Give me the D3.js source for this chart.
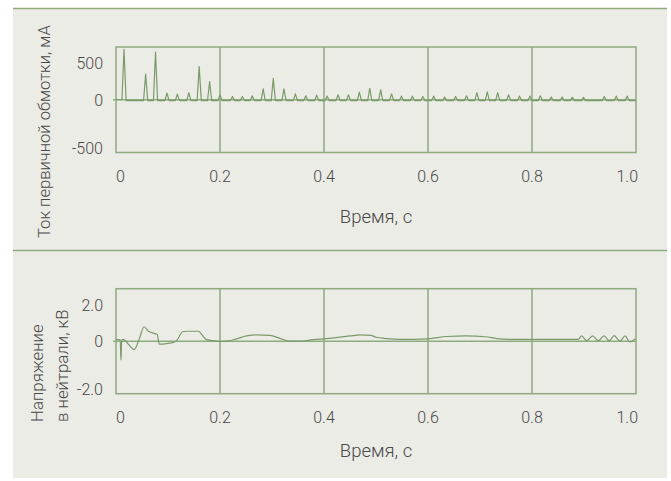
<!DOCTYPE html>
<html>
<head>
<meta charset="utf-8">
<script src="https://cdn.jsdelivr.net/npm/d3@7/dist/d3.min.js"></script>
<style>
  html, body { margin: 0; padding: 0; background: #ffffff; }
  svg { display: block; }
  text { font-family: Roboto, "Liberation Sans", sans-serif; font-weight: 300; fill: #484848; }
</style>
</head>
<body>
<svg id="chart" width="671" height="481"></svg>
<script>
// ---- Data ----------------------------------------------------------------
// Time axis (s), shared by both panels
const timeTicks = [0, 0.2, 0.4, 0.6, 0.8, 1.0];
const timeTickLabels = ["0", "0.2", "0.4", "0.6", "0.8", "1.0"];

// Primary winding current: inrush pulses (time, s / peak, mA)
const pulseTimes = [0.0154, 0.057, 0.076, 0.098, 0.118, 0.140, 0.160, 0.180, 0.200,
  0.224, 0.243, 0.262, 0.283, 0.3025, 0.323, 0.345, 0.365, 0.386, 0.406, 0.427,
  0.447, 0.468, 0.488, 0.509, 0.530, 0.549, 0.570, 0.590, 0.611, 0.632, 0.653,
  0.674, 0.694, 0.714, 0.734, 0.755, 0.776, 0.796, 0.816, 0.837, 0.858, 0.8775,
  0.899, 0.939, 0.962, 0.983];
const pulsePeaks = [477, 243, 451, 63, 53, 68, 315, 171, 47,
  31, 31, 37, 103, 203, 103, 56, 37, 44, 34, 47,
  47, 72, 109, 93, 56, 34, 34, 31, 34, 25, 31,
  37, 68, 75, 68, 47, 34, 34, 37, 25, 25, 22,
  22, 31, 34, 34];
const currentBaseline = -8;          // mA between pulses
const pulseHalfWidth = 0.004;        // s
const currentTicks = [500, 0, -500];
const currentTickLabels = ["500", "0", "-500"];

// Neutral voltage (time, s / kV)
const voltageTimes = [0, 0.008, 0.0096, 0.011, 0.015, 0.024, 0.035, 0.045, 0.054, 0.062,
  0.075, 0.0795, 0.083, 0.0974, 0.1115, 0.117, 0.128, 0.136, 0.159, 0.165, 0.174,
  0.187, 0.199, 0.216, 0.232, 0.251, 0.271, 0.296, 0.315, 0.335, 0.354, 0.379,
  0.405, 0.45, 0.47, 0.49, 0.50, 0.52, 0.546, 0.60, 0.636, 0.674, 0.71, 0.732,
  0.758, 0.80, 0.889, 0.8955, 0.905, 0.9167, 0.9275, 0.9385, 0.9487, 0.958,
  0.969, 0.979, 0.988, 0.998];
const voltageValues = [0.06, 0.06, -0.72, 0.06, 0.06, -0.12, -0.32, 0.10, 0.55, 0.39,
  0.29, 0.25, -0.11, -0.09, -0.04, 0.03, 0.36, 0.38, 0.38, 0.25, 0.06,
  0.025, -0.01, 0.01, 0.09, 0.20, 0.24, 0.22, 0.11, 0.0, 0.0, 0.06,
  0.10, 0.20, 0.24, 0.22, 0.15, 0.10, 0.07, 0.09, 0.18, 0.20, 0.17, 0.10,
  0.07, 0.07, 0.07, 0.20, 0.02, 0.20, 0.02, 0.20, 0.02, 0.21,
  0.0, 0.20, -0.03, 0.09];
const voltageTicks = [2.0, 0, -2.0];
const voltageTickLabels = ["2.0", "0", "-2.0"];

// ---- Drawing -------------------------------------------------------------
const svg = d3.select("#chart");
const lineColor = "#8dab7e";
const traceColor = "#7b9a6b";

// panel background and separators
svg.append("rect").attr("x", 13).attr("y", 8).attr("width", 654).attr("height", 470)
  .attr("fill", "#ecece6");
[8.5, 250.5].forEach(y => svg.append("line")
  .attr("x1", 13).attr("x2", 667).attr("y1", y).attr("y2", y)
  .attr("stroke", lineColor).attr("stroke-width", 1.6));

function drawPanel(opt) {
  const x = d3.scaleLinear().domain([0, 1]).range([116, 636]);
  const y = d3.scaleLinear().domain(opt.domain).range([opt.bottom, opt.top]);
  const g = svg.append("g");

  // frame
  g.append("rect").attr("x", x(0)).attr("y", opt.top)
    .attr("width", x(1) - x(0)).attr("height", opt.bottom - opt.top)
    .attr("fill", "none").attr("stroke", lineColor).attr("stroke-width", 1.5);

  // vertical grid
  g.selectAll("line.vgrid").data(timeTicks.slice(1, -1)).join("line")
    .attr("class", "vgrid")
    .attr("x1", d => x(d)).attr("x2", d => x(d))
    .attr("y1", opt.top).attr("y2", opt.bottom)
    .attr("stroke", lineColor).attr("stroke-width", 1.5);

  // zero line
  g.append("line").attr("x1", x(0) - 3).attr("x2", x(1))
    .attr("y1", y(0)).attr("y2", y(0))
    .attr("stroke", lineColor).attr("stroke-width", 1.5);

  // trace
  g.append("path").datum(opt.points)
    .attr("fill", "none").attr("stroke", traceColor).attr("stroke-width", 1.2)
    .attr("stroke-linejoin", "round")
    .attr("d", d3.line().x(d => x(d[0])).y(d => y(d[1])).curve(opt.curve));

  // x tick labels
  g.selectAll("text.xt").data(timeTicks).join("text")
    .attr("class", "xt")
    .attr("x", d => x(d)).attr("y", opt.bottom + 24).attr("dy", "0.36em")
    .attr("text-anchor", (d, i) => i === 0 ? "start" : (i === timeTicks.length - 1 ? "end" : "middle"))
    .attr("dx", (d, i) => i === 0 ? 0 : (i === timeTicks.length - 1 ? 2 : 0))
    .style("font-size", "16px")
    .text((d, i) => timeTickLabels[i]);

  // y tick labels
  g.selectAll("text.yt").data(opt.ticks).join("text")
    .attr("class", "yt")
    .attr("x", 103)
    .attr("y", d => Math.min(Math.max(y(d) + 0.5, opt.top + 16.5), opt.bottom - 4.5))
    .attr("dy", "0.36em").attr("text-anchor", "end")
    .style("font-size", "16px")
    .text((d, i) => opt.tickLabels[i]);

  // x title
  g.append("text").attr("x", (x(0) + x(1)) / 2).attr("y", opt.xTitleY)
    .attr("text-anchor", "middle").style("font-size", "18.5px").text("Время, с");
}

// current trace built from pulse list
const currentPoints = [[0, 0]];
pulseTimes.forEach((t, i) => {
  currentPoints.push([t - pulseHalfWidth, i === 0 ? 0 : currentBaseline]);
  currentPoints.push([t, pulsePeaks[i]]);
  currentPoints.push([t + pulseHalfWidth, currentBaseline]);
});
currentPoints.push([1.0, currentBaseline]);

drawPanel({
  top: 47, bottom: 152.5, domain: [-500, 500],
  ticks: currentTicks, tickLabels: currentTickLabels,
  points: currentPoints, curve: d3.curveLinear, xTitleY: 223
});

drawPanel({
  top: 288.7, bottom: 393.7, domain: [-2, 2],
  ticks: voltageTicks, tickLabels: voltageTickLabels,
  points: voltageTimes.map((t, i) => [t, voltageValues[i]]),
  curve: d3.curveMonotoneX, xTitleY: 457
});

// y titles (rotated)
svg.append("text").attr("transform", "translate(50,238) rotate(-90)")
  .attr("text-anchor", "start").style("font-size", "16.6px")
  .text("Ток первичной обмотки, мА");
const vt = svg.append("text").attr("transform", "translate(43,422) rotate(-90)")
  .attr("text-anchor", "start").style("font-size", "16.8px");
vt.append("tspan").attr("x", 0).attr("y", 0).text("Напряжение");
vt.append("tspan").attr("x", 0).attr("y", 25).text("в нейтрали, кВ");
</script>
</body>
</html>
